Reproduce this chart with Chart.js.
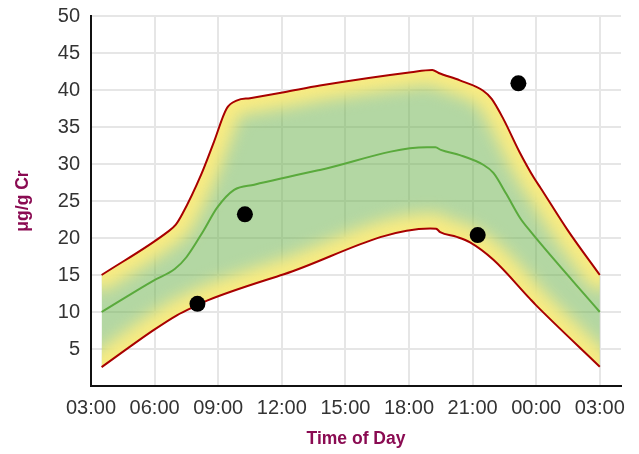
<!DOCTYPE html>
<html>
<head>
<meta charset="utf-8">
<script src="https://cdn.jsdelivr.net/npm/chart.js@4"></script>
<style>
  html, body { margin: 0; padding: 0; background: #fff; }
  #wrap { width: 639px; height: 454px; position: relative; }
</style>
</head>
<body>
<div id="wrap"><canvas id="c"></canvas></div>
<script>
// ---- data (hours of day; values >24 are the following day) ----
const upperHours  = [3.5, 6.6, 7.0, 7.3, 8.2, 8.8, 9.4, 9.9, 10.5, 12.1, 13.8, 18.1, 19.1, 19.4, 20.4, 21.5, 21.9, 22.45, 23.2, 23.9, 24.2, 25.5, 27.0];
const upperValues = [15.0, 20.8, 21.8, 23.2, 28.6, 33.0, 37.5, 38.6, 38.9, 39.7, 40.6, 42.4, 42.7, 42.3, 41.3, 39.9, 38.8, 36.1, 31.7, 28.1, 26.8, 21.0, 15.0];

const medianHours  = [3.5, 5.95, 6.95, 7.5, 8.3, 8.95, 9.75, 10.7, 13.8, 18.85, 19.25, 19.5, 20.4, 21.5, 21.98, 22.6, 23.24, 23.71, 27.0];
const medianValues = [10.0, 14.25, 15.8, 17.4, 20.95, 24.1, 26.5, 27.2, 29.2, 32.25, 32.25, 31.9, 31.2, 29.9, 28.8, 25.9, 22.7, 20.95, 10.0];

const lowerHours  = [3.5, 5.95, 7.05, 8.0, 8.5, 12.1, 19.0, 19.28, 19.47, 20.25, 20.88, 21.98, 23.7, 24.0, 27.0];
const lowerValues = [2.55, 7.55, 9.56, 10.9, 11.57, 15.1, 21.3, 21.26, 20.8, 20.15, 19.4, 17.05, 11.8, 10.9, 2.6];

const sampleHours  = [8.02, 10.26, 21.24, 23.16];
const sampleValues = [11.1, 23.2, 20.4, 40.9];

const xTickHours  = [3, 6, 9, 12, 15, 18, 21, 24, 27];
const xTickLabels = ['03:00', '06:00', '09:00', '12:00', '15:00', '18:00', '21:00', '00:00', '03:00'];
const yTickValues = [5, 10, 15, 20, 25, 30, 35, 40, 45, 50];

const xTitle = 'Time of Day';
const yTitle = 'μg/g Cr';

// ---- helpers ----
const toPts = (xs, ys) => xs.map((x, i) => ({ x: x, y: ys[i] }));

const bandGlow = {
  id: 'bandGlow',
  beforeDatasetDraw(chart, args) {
    if (args.index !== 0) return;
    const up = chart.getDatasetMeta(0).dataset;
    const lo = chart.getDatasetMeta(1).dataset;
    const ctx = chart.ctx, a = chart.chartArea;
    up.updateControlPoints(a, 'x');
    lo.updateControlPoints(a, 'x');
    const uP = up.points, lP = lo.points;
    ctx.save();
    ctx.beginPath(); up.path(ctx);
    ctx.lineTo(uP[uP.length - 1].x, a.bottom + 50); ctx.lineTo(uP[0].x, a.bottom + 50); ctx.closePath();
    ctx.clip();
    ctx.beginPath(); lo.path(ctx);
    ctx.lineTo(lP[lP.length - 1].x, a.top - 50); ctx.lineTo(lP[0].x, a.top - 50); ctx.closePath();
    ctx.clip();
    ctx.filter = 'blur(8px)';
    ctx.strokeStyle = 'rgba(250,236,130,1)';
    ctx.lineWidth = 30;
    ctx.lineJoin = 'round';
    ctx.lineCap = 'round';
    ctx.beginPath(); up.path(ctx); ctx.stroke();
    ctx.beginPath(); lo.path(ctx); ctx.stroke();
    ctx.restore();
  }
};

Chart.defaults.font.family = '"Liberation Sans", Arial, sans-serif';

new Chart(document.getElementById('c'), {
  type: 'line',
  data: {
    datasets: [
      {
        data: toPts(upperHours, upperValues),
        borderColor: '#a80000',
        borderWidth: 2,
        pointRadius: 0,
        cubicInterpolationMode: 'monotone',
        fill: 1,
        backgroundColor: 'rgba(103,175,71,0.5)',
        order: 3
      },
      {
        data: toPts(lowerHours, lowerValues),
        borderColor: '#a80000',
        borderWidth: 2,
        pointRadius: 0,
        cubicInterpolationMode: 'monotone',
        fill: false,
        order: 2
      },
      {
        data: toPts(medianHours, medianValues),
        borderColor: '#5aaa3c',
        borderWidth: 2,
        pointRadius: 0,
        cubicInterpolationMode: 'monotone',
        fill: false,
        order: 1
      },
      {
        type: 'scatter',
        data: toPts(sampleHours, sampleValues),
        pointRadius: 8,
        pointBackgroundColor: '#000',
        pointBorderColor: '#000',
        pointBorderWidth: 0,
        showLine: false,
        order: 0
      }
    ]
  },
  options: {
    responsive: true,
    maintainAspectRatio: false,
    animation: false,
    layout: { padding: { top: 16, right: 18, bottom: 0, left: 0 } },
    plugins: { legend: { display: false }, tooltip: { enabled: false } },
    scales: {
      x: {
        type: 'linear',
        min: 3,
        max: 28,
        afterBuildTicks: s => { s.ticks = xTickHours.map(v => ({ value: v })); },
        afterFit: s => { s.height = 68; s.paddingLeft = 0; s.paddingRight = 0; },
        ticks: {
          callback: (v, i) => xTickLabels[i],
          color: '#333',
          font: { size: 20 },
          padding: 10,
          maxRotation: 0
        },
        grid: { color: '#e6e6e6', lineWidth: 2, drawTicks: false },
        border: { color: '#111', width: 2 },
        title: {
          display: true,
          text: xTitle,
          color: '#8a0b52',
          font: { size: 17.5, weight: 'bold' },
          padding: { top: 0, bottom: 4 }
        }
      },
      y: {
        min: 0,
        max: 50,
        afterBuildTicks: s => { s.ticks = yTickValues.map(v => ({ value: v })); },
        afterFit: s => { s.width = 91; s.paddingTop = 0; s.paddingBottom = 0; },
        ticks: {
          color: '#333',
          font: { size: 20 },
          padding: 11
        },
        grid: { color: '#e6e6e6', lineWidth: 2, drawTicks: false },
        border: { color: '#111', width: 2 },
        title: {
          display: true,
          text: yTitle,
          color: '#8a0b52',
          font: { size: 17.5, weight: 'bold' },
          padding: { top: 13, bottom: 0 }
        }
      }
    }
  },
  plugins: [bandGlow]
});
</script>
</body>
</html>
